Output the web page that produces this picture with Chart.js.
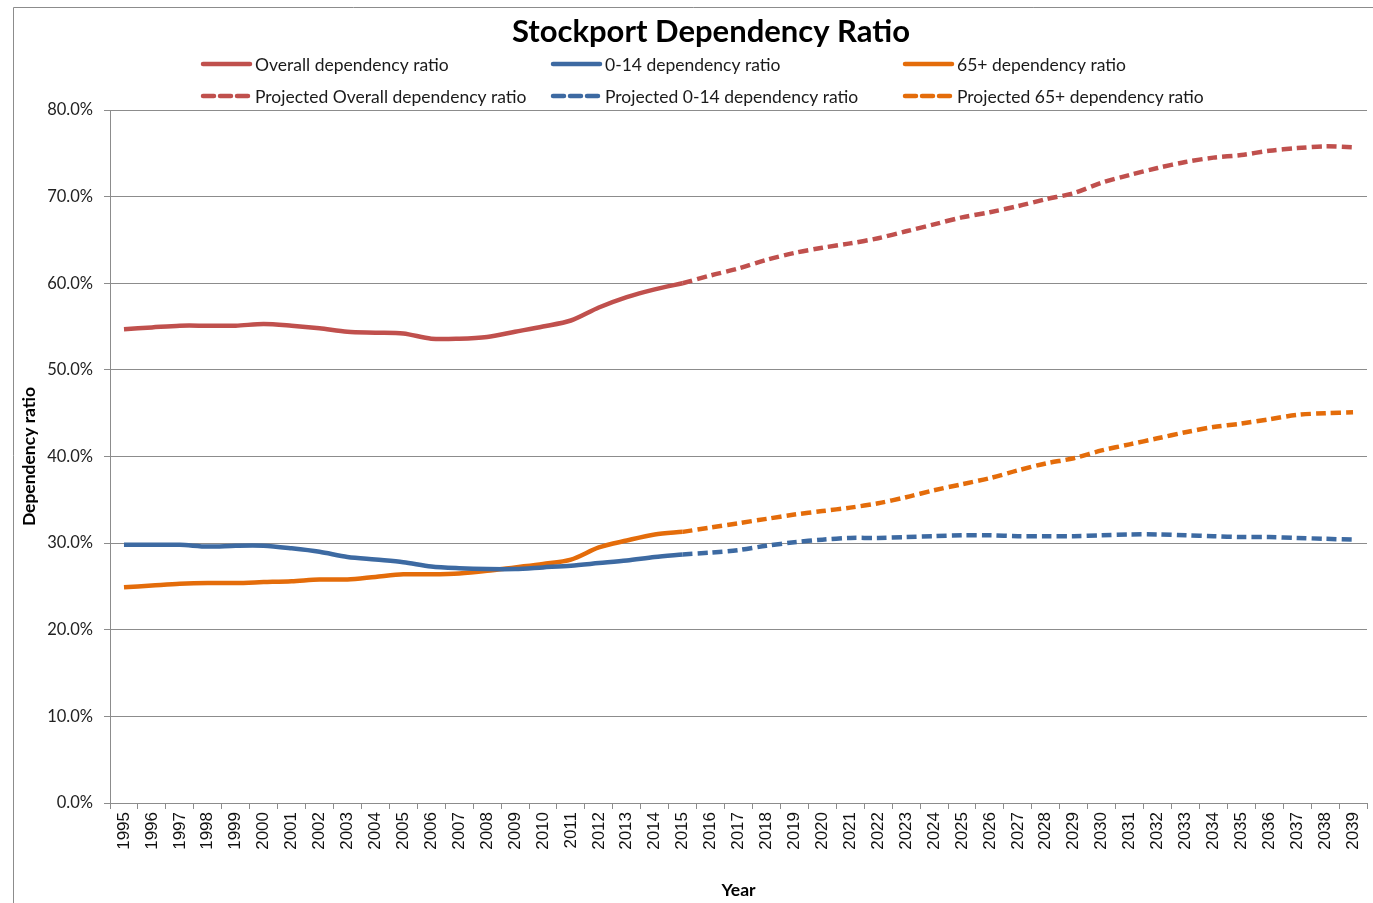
<!DOCTYPE html>
<html>
<head>
<meta charset="utf-8">
<title>Stockport Dependency Ratio</title>
<script src="https://cdn.jsdelivr.net/npm/chart.js@4"></script>
<style>
    body { margin: 0; background: #ffffff; }
    canvas { display: block; }
</style>
</head>
<body>
<canvas id="myChart" width="1373" height="903"></canvas>
<script>

// ===============================
// DATA
// ===============================

const years = [
    "1995","1996","1997","1998","1999","2000","2001","2002","2003","2004",
    "2005","2006","2007","2008","2009","2010","2011","2012","2013","2014",
    "2015","2016","2017","2018","2019","2020","2021","2022","2023","2024",
    "2025","2026","2027","2028","2029","2030","2031","2032","2033","2034",
    "2035","2036","2037","2038","2039"
];

// 1995 - 2015
const overall = [
    54.7, 54.9, 55.1, 55.1, 55.1, 55.3, 55.1, 54.8, 54.4, 54.3,
    54.2, 53.6, 53.6, 53.8, 54.4, 55.0, 55.7, 57.2, 58.4, 59.3, 60.0
];
const child = [
    29.8, 29.8, 29.8, 29.6, 29.7, 29.7, 29.4, 29.0, 28.4, 28.1,
    27.8, 27.3, 27.1, 27.0, 27.0, 27.2, 27.4, 27.7, 28.0, 28.4, 28.7
];
const older = [
    24.9, 25.1, 25.3, 25.4, 25.4, 25.5, 25.6, 25.8, 25.8, 26.1,
    26.4, 26.4, 26.5, 26.8, 27.2, 27.6, 28.1, 29.5, 30.3, 31.0, 31.3
];

// 2015 - 2039
const overallProj = [
    60.0, 60.9, 61.7, 62.7, 63.5, 64.1, 64.6, 65.2, 66.0, 66.8,
    67.6, 68.2, 68.9, 69.7, 70.4, 71.6, 72.5, 73.3, 74.0, 74.5,
    74.8, 75.3, 75.6, 75.8, 75.7
];
const childProj = [
    28.7, 28.9, 29.2, 29.7, 30.1, 30.4, 30.6, 30.6, 30.7, 30.8,
    30.9, 30.9, 30.8, 30.8, 30.8, 30.9, 31.0, 31.0, 30.9, 30.8,
    30.7, 30.7, 30.6, 30.5, 30.4
];
const olderProj = [
    31.3, 31.8, 32.3, 32.8, 33.3, 33.7, 34.1, 34.6, 35.3, 36.1,
    36.8, 37.5, 38.4, 39.2, 39.8, 40.7, 41.4, 42.1, 42.8, 43.4,
    43.8, 44.3, 44.8, 45.0, 45.1
];

const yTicks = [0, 10, 20, 30, 40, 50, 60, 70, 80];

// ===============================
// HELPERS
// ===============================

const RED = "#C0504D";
const BLUE = "#3D6AA2";
const ORANGE = "#E46C0A";
const GRID = "#8C8C8C";
const FONT = "Lato, 'Open Sans', sans-serif";

function history(values){
    return values.concat(new Array(years.length - values.length).fill(null));
}

function projected(values){
    return new Array(years.length - values.length).fill(null).concat(values);
}

function series(label, data, color, dashed){
    return {
        label: label,
        data: data,
        borderColor: color,
        backgroundColor: color,
        borderWidth: 4.5,
        borderDash: dashed ? [10, 5] : [],
        tension: 0.3,
        pointRadius: 0,
        pointHoverRadius: 0,
        fill: false,
        spanGaps: false
    };
}

// ===============================
// FRAME + TITLE + LEGEND PLUGIN
// ===============================

const legendCols = [201, 551, 903];
const legendRows = [64, 96];

const decorations = {
    id: "decorations",

    beforeDraw(chart){
        const c = chart.ctx;
        c.save();
        c.strokeStyle = GRID;
        c.lineWidth = 1;
        c.beginPath();
        c.moveTo(13.5, 903);
        c.lineTo(13.5, 7.5);
        c.lineTo(1373, 7.5);
        c.stroke();
        c.restore();
    },

    afterDraw(chart){
        const c = chart.ctx;
        c.save();

        // title
        c.fillStyle = "#000000";
        c.font = "bold 31px " + FONT;
        c.textAlign = "center";
        c.textBaseline = "middle";
        c.fillText("Stockport Dependency Ratio", 711, 32);

        // legend, 3 columns x 2 rows
        c.font = "17.5px " + FONT;
        c.textAlign = "left";
        chart.data.datasets.forEach(function(ds, i){
            const x = legendCols[i % 3];
            const y = legendRows[Math.floor(i / 3)];
            c.strokeStyle = ds.borderColor;
            c.lineWidth = 4.5;
            c.lineCap = "round";
            c.setLineDash(ds.borderDash.length ? [11, 6] : []);
            c.beginPath();
            c.moveTo(x + 2, y);
            c.lineTo(x + 49, y);
            c.stroke();
            c.setLineDash([]);
            c.fillStyle = "#1a1a1a";
            c.fillText(ds.label, x + 54, y + 1);
        });

        c.restore();
    }
};

// ===============================
// CHART
// ===============================

const ctx = document.getElementById("myChart").getContext("2d");

const myChart = new Chart(ctx, {

    type: "line",

    data: {

        labels: years,

        datasets: [
            series("Overall dependency ratio", history(overall), RED, false),
            series("0-14 dependency ratio", history(child), BLUE, false),
            series("65+ dependency ratio", history(older), ORANGE, false),
            series("Projected Overall dependency ratio", projected(overallProj), RED, true),
            series("Projected 0-14 dependency ratio", projected(childProj), BLUE, true),
            series("Projected 65+ dependency ratio", projected(olderProj), ORANGE, true)
        ]
    },

    options: {

        responsive: false,

        animation: false,

        layout: {
            padding: { top: 110, left: 13, right: 6, bottom: 0 }
        },

        plugins: {
            legend: { display: false },
            title: { display: false },
            tooltip: { enabled: false }
        },

        scales: {

            x: {
                offset: true,
                afterFit(scale){
                    scale.height = 100;
                    scale.paddingLeft = 0;
                    scale.paddingRight = 0;
                },
                grid: {
                    offset: true,
                    drawOnChartArea: false,
                    drawTicks: true,
                    tickLength: 6,
                    color: GRID
                },
                border: { color: GRID, width: 1 },
                ticks: {
                    autoSkip: false,
                    minRotation: 90,
                    maxRotation: 90,
                    padding: 3,
                    color: "#111111",
                    font: { family: "'Liberation Sans', Arial, sans-serif", size: 17 }
                },
                title: {
                    display: true,
                    text: "Year",
                    color: "#000000",
                    padding: { top: 0, bottom: 2 },
                    font: { family: FONT, size: 17.5, weight: "bold" }
                }
            },

            y: {
                min: 0,
                max: 80,
                afterFit(scale){ scale.width = 97; },
                afterBuildTicks(scale){
                    scale.ticks = yTicks.map(function(v){ return { value: v }; });
                },
                grid: {
                    color: GRID,
                    lineWidth: 1,
                    drawTicks: true,
                    tickLength: 6
                },
                border: { color: GRID, width: 1 },
                ticks: {
                    padding: 11,
                    color: "#222222",
                    font: { family: FONT, size: 16.5 },
                    callback: function(v){ return v.toFixed(1) + "%"; }
                },
                title: {
                    display: true,
                    text: "Dependency ratio",
                    color: "#000000",
                    padding: { top: 6, bottom: 0 },
                    font: { family: FONT, size: 17.5, weight: "bold" }
                }
            }
        }
    },

    plugins: [decorations]
});

</script>
</body>
</html>
